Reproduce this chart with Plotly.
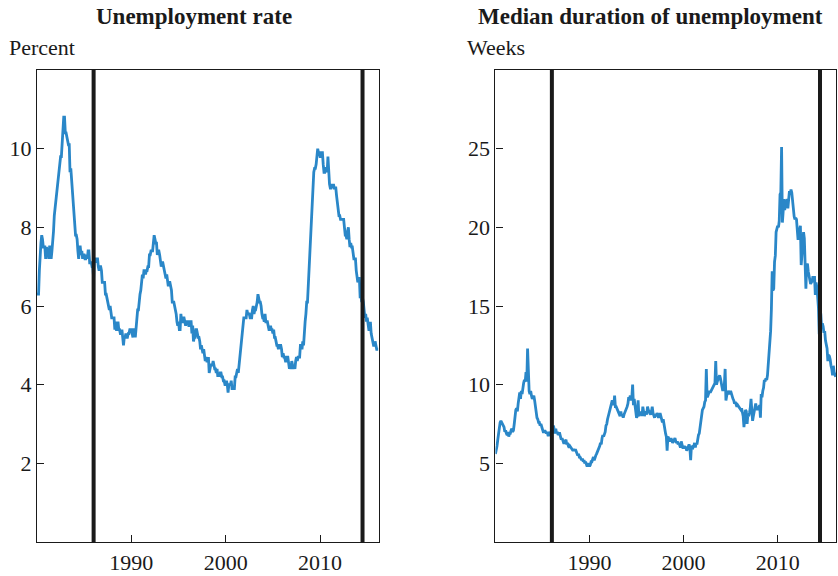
import plotly.graph_objects as go

# Monthly series, January 1980 through March 2016
start_year = 1980
unemployment_rate = [
    6.3, 6.3, 6.3, 6.9, 7.5, 7.6, 7.8, 7.7, 7.5, 7.5, 7.5, 7.2,   # 1980
    7.5, 7.4, 7.4, 7.2, 7.5, 7.5, 7.2, 7.4, 7.6, 7.9, 8.3, 8.5,   # 1981
    8.6, 8.9, 9.0, 9.3, 9.4, 9.6, 9.8, 9.8, 10.1, 10.4, 10.8, 10.8,  # 1982
    10.4, 10.4, 10.3, 10.2, 10.1, 10.1, 9.4, 9.5, 9.2, 8.8, 8.5, 8.3,  # 1983
    8.0, 7.8, 7.8, 7.7, 7.4, 7.2, 7.5, 7.5, 7.3, 7.4, 7.2, 7.3,   # 1984
    7.3, 7.2, 7.2, 7.3, 7.2, 7.4, 7.4, 7.1, 7.1, 7.1, 7.0, 7.0,   # 1985
    6.7, 7.2, 7.2, 7.1, 7.2, 7.2, 7.0, 6.9, 7.0, 7.0, 6.9, 6.6,   # 1986
    6.6, 6.6, 6.6, 6.3, 6.3, 6.2, 6.1, 6.0, 5.9, 6.0, 5.8, 5.7,   # 1987
    5.7, 5.7, 5.7, 5.4, 5.6, 5.4, 5.4, 5.6, 5.4, 5.4, 5.3, 5.3,   # 1988
    5.4, 5.2, 5.0, 5.2, 5.2, 5.3, 5.2, 5.2, 5.3, 5.3, 5.4, 5.4,   # 1989
    5.4, 5.3, 5.2, 5.4, 5.4, 5.2, 5.5, 5.7, 5.9, 5.9, 6.2, 6.3,   # 1990
    6.4, 6.6, 6.8, 6.7, 6.9, 6.9, 6.8, 6.9, 6.9, 7.0, 7.0, 7.3,   # 1991
    7.3, 7.4, 7.4, 7.4, 7.6, 7.8, 7.7, 7.6, 7.6, 7.3, 7.4, 7.4,   # 1992
    7.3, 7.1, 7.0, 7.1, 7.1, 7.0, 6.9, 6.8, 6.7, 6.8, 6.6, 6.5,   # 1993
    6.6, 6.6, 6.5, 6.4, 6.1, 6.1, 6.1, 6.0, 5.9, 5.8, 5.6, 5.5,   # 1994
    5.6, 5.4, 5.4, 5.8, 5.6, 5.6, 5.7, 5.7, 5.6, 5.5, 5.6, 5.6,   # 1995
    5.6, 5.5, 5.5, 5.6, 5.6, 5.3, 5.5, 5.1, 5.2, 5.2, 5.4, 5.4,   # 1996
    5.3, 5.2, 5.2, 5.1, 4.9, 5.0, 4.9, 4.8, 4.9, 4.7, 4.6, 4.7,   # 1997
    4.6, 4.6, 4.7, 4.3, 4.4, 4.5, 4.5, 4.5, 4.6, 4.5, 4.4, 4.4,   # 1998
    4.3, 4.4, 4.2, 4.3, 4.2, 4.3, 4.3, 4.2, 4.2, 4.1, 4.1, 4.0,   # 1999
    4.0, 4.1, 4.0, 3.8, 4.0, 4.0, 4.0, 4.1, 3.9, 3.9, 3.9, 3.9,   # 2000
    4.2, 4.2, 4.3, 4.4, 4.3, 4.5, 4.6, 4.9, 5.0, 5.3, 5.5, 5.7,   # 2001
    5.7, 5.7, 5.7, 5.9, 5.8, 5.8, 5.8, 5.7, 5.7, 5.7, 5.9, 6.0,   # 2002
    5.8, 5.9, 5.9, 6.0, 6.1, 6.3, 6.2, 6.1, 6.1, 6.0, 5.8, 5.7,   # 2003
    5.7, 5.6, 5.8, 5.6, 5.6, 5.6, 5.5, 5.4, 5.4, 5.5, 5.4, 5.4,   # 2004
    5.3, 5.4, 5.2, 5.2, 5.1, 5.0, 5.0, 4.9, 5.0, 5.0, 5.0, 4.9,   # 2005
    4.7, 4.8, 4.7, 4.7, 4.6, 4.6, 4.7, 4.7, 4.5, 4.4, 4.5, 4.4,   # 2006
    4.6, 4.5, 4.4, 4.5, 4.4, 4.6, 4.7, 4.6, 4.7, 4.7, 4.7, 5.0,   # 2007
    5.0, 4.9, 5.1, 5.0, 5.4, 5.6, 5.8, 6.1, 6.1, 6.5, 6.8, 7.3,   # 2008
    7.8, 8.3, 8.7, 9.0, 9.4, 9.5, 9.5, 9.6, 9.8, 10.0, 9.9, 9.9,  # 2009
    9.8, 9.8, 9.9, 9.9, 9.6, 9.4, 9.4, 9.5, 9.5, 9.4, 9.8, 9.3,   # 2010
    9.1, 9.0, 9.0, 9.1, 9.0, 9.1, 9.0, 9.0, 9.0, 8.8, 8.6, 8.5,   # 2011
    8.3, 8.3, 8.2, 8.2, 8.2, 8.2, 8.2, 8.0, 7.8, 7.8, 7.7, 7.9,   # 2012
    8.0, 7.7, 7.5, 7.6, 7.5, 7.5, 7.3, 7.2, 7.2, 7.2, 6.9, 6.7,   # 2013
    6.6, 6.7, 6.7, 6.2, 6.3, 6.1, 6.2, 6.1, 5.9, 5.7, 5.8, 5.6,   # 2014
    5.7, 5.5, 5.4, 5.4, 5.6, 5.3, 5.2, 5.1, 5.0, 5.0, 5.1, 5.0,   # 2015
    4.9, 4.9, 4.9,                                                # 2016
]

median_duration_weeks = [
    5.6, 5.8, 6.1, 6.5, 6.9, 7.3, 7.6, 7.7, 7.6, 7.5, 7.3, 7.3,   # 1980
    7.0, 7.1, 6.9, 6.8, 7.0, 6.7, 6.9, 6.9, 7.1, 7.2, 7.0, 7.1,   # 1981
    7.5, 8.0, 8.4, 8.5, 8.3, 8.8, 9.2, 9.5, 9.1, 9.6, 9.4, 9.9,   # 1982
    10.1, 10.3, 10.2, 10.8, 10.2, 12.3, 10.4, 9.6, 9.4, 9.6, 9.3, 9.1,  # 1983
    9.2, 9.3, 9.0, 8.5, 8.2, 7.9, 7.8, 7.6, 7.6, 7.4, 7.5, 7.3,   # 1984
    7.1, 7.0, 7.0, 7.1, 7.0, 6.9, 7.0, 6.8, 6.8, 7.0, 6.9, 6.8,   # 1985
    6.9, 7.0, 7.4, 7.0, 6.9, 7.2, 6.9, 7.0, 6.8, 6.9, 6.9, 6.7,   # 1986
    6.5, 6.6, 6.4, 6.3, 6.3, 6.4, 6.5, 6.2, 6.3, 6.1, 6.0, 6.1,   # 1987
    6.0, 5.9, 5.9, 5.8, 5.9, 5.8, 5.9, 5.8, 5.6, 5.5, 5.6, 5.4,   # 1988
    5.4, 5.3, 5.2, 5.3, 5.1, 5.2, 5.0, 5.1, 5.0, 4.8, 5.0, 4.9,   # 1989
    4.8, 4.9, 5.1, 5.1, 5.2, 5.4, 5.2, 5.4, 5.5, 5.6, 5.7, 5.8,   # 1990
    5.9, 6.1, 6.3, 6.2, 6.6, 6.8, 6.7, 6.9, 7.0, 7.4, 7.5, 7.8,   # 1991
    8.1, 8.2, 8.4, 8.6, 8.8, 9.0, 8.9, 8.7, 9.3, 8.6, 8.6, 8.5,   # 1992
    8.4, 8.2, 8.1, 8.0, 8.3, 8.0, 8.1, 7.9, 8.1, 8.2, 8.4, 8.5,   # 1993
    8.6, 8.8, 9.2, 9.1, 9.3, 9.0, 9.2, 10.0, 8.7, 9.1, 8.5, 8.3,  # 1994
    7.9, 8.0, 9.0, 8.0, 8.2, 8.1, 8.3, 8.0, 8.6, 8.1, 8.0, 8.2,   # 1995
    8.3, 8.1, 8.6, 8.4, 8.3, 8.2, 8.1, 8.3, 8.6, 8.2, 8.0, 7.9,   # 1996
    8.1, 8.0, 8.2, 8.1, 7.9, 8.0, 8.2, 8.0, 7.7, 7.6, 7.8, 7.5,   # 1997
    7.0, 6.9, 6.7, 5.8, 6.7, 6.6, 6.5, 6.4, 6.6, 6.5, 6.3, 6.4,   # 1998
    6.5, 6.6, 6.4, 6.3, 6.4, 6.2, 6.3, 6.2, 6.0, 6.4, 6.1, 6.0,   # 1999
    6.0, 6.1, 6.0, 6.0, 5.8, 5.9, 6.0, 6.2, 6.0, 5.2, 6.1, 6.0,   # 2000
    6.0, 6.1, 6.3, 6.0, 6.3, 6.2, 6.6, 6.8, 6.9, 7.3, 7.7, 8.2,   # 2001
    8.4, 8.5, 8.6, 8.9, 9.0, 11.0, 9.2, 9.3, 9.4, 9.6, 9.5, 9.6,  # 2002
    9.7, 9.8, 9.9, 10.0, 10.1, 11.5, 10.0, 10.2, 10.3, 10.5, 10.6, 10.4,  # 2003
    10.2, 9.9, 9.6, 9.8, 10.0, 11.0, 9.0, 9.3, 9.5, 9.6, 9.5, 9.4,  # 2004
    9.6, 9.4, 9.2, 9.1, 9.0, 8.8, 8.9, 8.7, 8.6, 8.7, 8.6, 8.5,   # 2005
    8.4, 8.4, 8.5, 8.2, 8.0, 7.3, 8.2, 8.4, 8.3, 7.5, 8.1, 8.0,   # 2006
    8.2, 8.5, 9.1, 8.4, 7.7, 8.0, 8.3, 8.6, 8.8, 8.5, 8.4, 8.6,   # 2007
    8.5, 8.7, 7.9, 9.4, 9.2, 9.6, 9.8, 10.3, 10.2, 10.4, 10.3, 10.6,  # 2008
    11.2, 11.7, 12.4, 13.4, 14.8, 17.2, 16.0, 16.1, 17.8, 18.2, 19.7, 19.9,  # 2009
    20.1, 20.0, 20.4, 22.1, 22.2, 25.1, 20.3, 21.0, 21.8, 21.1, 21.6, 21.5,  # 2010
    21.8, 21.2, 21.6, 22.3, 22.1, 22.4, 22.2, 21.6, 20.9, 20.7, 20.5, 20.6,  # 2011
    20.5, 19.5, 19.2, 19.6, 19.9, 20.1, 17.6, 18.3, 18.8, 19.7, 19.3, 17.8,  # 2012
    16.1, 17.6, 17.7, 17.2, 16.9, 16.8, 16.4, 16.5, 16.6, 16.9, 16.5, 16.9,  # 2013
    15.7, 16.5, 16.2, 15.6, 14.9, 13.2, 14.6, 14.5, 13.6, 13.9, 13.7, 13.3,  # 2014
    13.4, 12.8, 12.6, 12.3, 11.5, 11.9, 11.8, 11.6, 11.2, 11.0, 10.6, 11.2,  # 2015
    10.8, 10.6, 10.5,                                                        # 2016
]

# Dates of the two marked events (decimal years)
event_years = [1986.0, 2014.5]

x_tick_years = [1990, 2000, 2010]
rate_ticks = [2, 4, 6, 8, 10]
duration_ticks = [5, 10, 15, 20, 25]

panel_titles = ["Unemployment rate", "Median duration of unemployment"]
unit_labels = ["Percent", "Weeks"]

months = [start_year + i / 12 for i in range(len(unemployment_rate))]

LINE_BLUE = "#2a87c8"
INK = "#1a1a1a"
FONT = "Liberation Serif"

W, H = 838, 576
ML, MR, MT, MB = 37, 1, 70, 30
plot_w = W - ML - MR
plot_h = H - MT - MB


def px_x(px):
    return (px - ML) / plot_w


def px_y(py):
    return 1 + (MT - py) / plot_h


fig = go.Figure()
fig.add_trace(go.Scatter(x=months, y=unemployment_rate, mode="lines",
                         line=dict(color=LINE_BLUE, width=2.8),
                         xaxis="x", yaxis="y", showlegend=False))
fig.add_trace(go.Scatter(x=months[:len(median_duration_weeks)], y=median_duration_weeks,
                         mode="lines", line=dict(color=LINE_BLUE, width=2.8),
                         xaxis="x2", yaxis="y2", showlegend=False))

x_range = [1980, 2016.2]
common_x = dict(range=x_range, tickvals=x_tick_years, ticks="inside", ticklen=7,
                tickwidth=1, tickcolor=INK, showline=True, linecolor=INK,
                linewidth=1.2, mirror=True, showgrid=False, zeroline=False,
                tickfont=dict(family=FONT, size=22, color=INK))
common_y = dict(ticks="inside", ticklen=7, tickwidth=1, tickcolor=INK,
                showline=True, linecolor=INK, linewidth=1.2, mirror=True,
                showgrid=False, zeroline=False,
                tickfont=dict(family=FONT, size=22, color=INK))

left_dom = [0, px_x(379)]
right_dom = [px_x(496), 1]

fig.update_layout(
    width=W, height=H,
    margin=dict(l=ML, r=MR, t=MT, b=MB),
    paper_bgcolor="white", plot_bgcolor="white",
    font=dict(family=FONT, size=22, color=INK),
    xaxis=dict(domain=left_dom, anchor="y", **common_x),
    yaxis=dict(domain=[0, 1], anchor="x", range=[0, 12], tickvals=rate_ticks, **common_y),
    xaxis2=dict(domain=right_dom, anchor="y2", **common_x),
    yaxis2=dict(domain=[0, 1], anchor="x2", range=[0, 30], tickvals=duration_ticks, **common_y),
)

# Event markers as thick vertical rules in both panels
shapes = []
for xa, ya in [("x", "y"), ("x2", "y2")]:
    for ev in event_years:
        shapes.append(dict(type="line", xref=xa, yref=f"{ya} domain", x0=ev, x1=ev,
                           y0=0, y1=1, line=dict(color=INK, width=4), layer="above"))
fig.update_layout(shapes=shapes)

# Panel titles and unit labels
title_centers = [194, 651]
unit_lefts = [7, 466]
for title, cx in zip(panel_titles, title_centers):
    fig.add_annotation(text=f"<b>{title}</b>", xref="paper", yref="paper",
                       x=px_x(cx), y=px_y(16), xanchor="center", yanchor="middle",
                       showarrow=False, font=dict(family=FONT, size=23, color=INK))
for unit, lx in zip(unit_labels, unit_lefts):
    fig.add_annotation(text=unit, xref="paper", yref="paper",
                       x=px_x(lx), y=px_y(47), xanchor="left", yanchor="middle",
                       showarrow=False, font=dict(family=FONT, size=22, color=INK))

fig.write_html("out.html")
